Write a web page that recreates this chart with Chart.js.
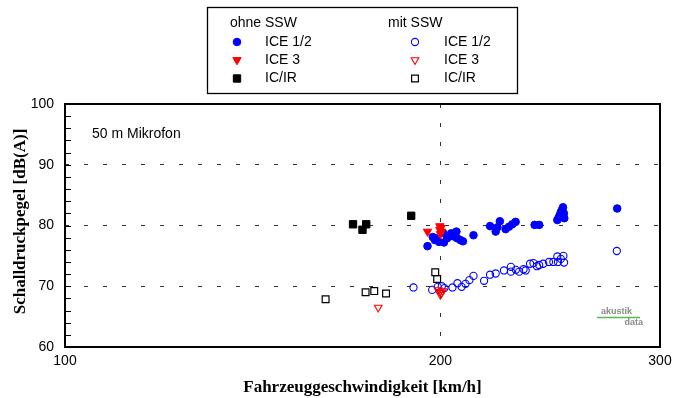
<!DOCTYPE html>
<html>
<head>
<meta charset="utf-8">
<script src="https://cdn.jsdelivr.net/npm/chart.js@4/dist/chart.umd.min.js"></script>
<style>
  body { margin: 0; background: #fff; }
  canvas { display: block; }
</style>
</head>
<body>
<canvas id="chart" width="674" height="398"></canvas>
<script>
// --- Data ---
const xTicks = [100, 200, 300];
const yTicks = [60, 70, 80, 90, 100];

// ohne SSW
const ice12OhneSpeed = [195.3, 197.2, 198.0, 198.5, 199.5, 201.3, 201.0, 202.5, 204.0, 205.0, 206.0, 206.3, 207.5, 208.5, 212.6,
    219.2, 221.5, 222.2, 223.2, 225.6, 227.0, 228.4, 229.8, 238.0, 240.0, 248.2, 248.8, 249.3, 249.8, 250.4, 250.8, 251.2, 251.4, 277.2];
const ice12OhneLevel = [76.6, 78.1, 77.6, 77.9, 77.3, 77.2, 78.8, 77.9, 78.7, 78.2, 79.0, 77.9, 77.6, 77.4, 78.4,
    79.9, 79.0, 79.7, 80.7, 79.4, 79.8, 80.2, 80.6, 80.1, 80.1, 80.9, 81.3, 81.7, 82.2, 82.6, 83.0, 82.0, 81.2, 82.8];
const ice3OhneSpeed = [195.3, 199.8, 200.2, 199.8, 200.4, 200.0];
const ice3OhneLevel = [79.0, 79.9, 79.6, 79.3, 79.0, 78.6];
const icOhneSpeed = [170.2, 173.2, 174.4, 189.5];
const icOhneLevel = [80.2, 79.3, 80.2, 81.6];

// mit SSW
const ice12MitSpeed = [190.3, 197.0, 199.0, 200.5, 201.5, 204.5, 206.4, 208.0, 209.5, 211.0, 212.6, 216.8, 219.2, 221.5, 224.9,
    227.8, 227.8, 229.9, 231.3, 233.2, 234.1, 236.0, 237.5, 239.0, 240.0, 241.8, 244.4, 246.4, 248.2, 248.5, 249.8, 251.0, 251.3, 277.0];
const ice12MitLevel = [69.8, 69.4, 69.9, 70.0, 69.7, 69.8, 70.5, 69.9, 70.4, 71.0, 71.7, 70.9, 71.9, 72.1, 72.6,
    73.2, 72.4, 72.7, 72.4, 72.8, 72.6, 73.7, 73.8, 73.3, 73.5, 73.7, 74.0, 74.0, 74.9, 74.0, 74.5, 75.0, 73.9, 75.8];
const ice3MitSpeed = [178.3, 199.2, 199.8, 200.4, 200.0, 200.8];
const ice3MitLevel = [66.5, 69.4, 69.1, 68.9, 68.6, 69.2];
const icMitSpeed = [161.8, 174.2, 177.0, 180.9, 198.1, 198.8];
const icMitLevel = [67.85, 69.0, 69.2, 68.8, 72.3, 71.2];

const BLUE = '#0000ff';
const RED = '#ff0000';

function points(xs, ys) {
    return xs.map((x, i) => ({ x: x, y: ys[i] }));
}

const styles = {
    ice12Ohne: { pointStyle: 'circle', radius: 3.8, bg: BLUE, border: BLUE, bw: 1, rot: 0 },
    ice3Ohne:  { pointStyle: 'triangle', radius: 4.8, bg: RED, border: RED, bw: 1, rot: 180 },
    icOhne:    { pointStyle: 'rect', radius: 5.2, bg: '#000', border: '#000', bw: 1, rot: 0 },
    ice12Mit:  { pointStyle: 'circle', radius: 3.6, bg: 'transparent', border: BLUE, bw: 1.1, rot: 0 },
    ice3Mit:   { pointStyle: 'triangle', radius: 4.4, bg: 'transparent', border: RED, bw: 1.1, rot: 180 },
    icMit:     { pointStyle: 'rect', radius: 4.8, bg: 'transparent', border: '#000', bw: 1.2, rot: 0 }
};

function dataset(label, data, s) {
    return {
        label: label,
        data: data,
        pointStyle: s.pointStyle,
        pointRadius: s.radius,
        pointHoverRadius: s.radius,
        pointRotation: s.rot,
        backgroundColor: s.bg,
        borderColor: s.border,
        borderWidth: s.bw
    };
}

// draw one legend marker with the same look as the chart points
function marker(ctx, s, x, y) {
    ctx.save();
    ctx.fillStyle = s.bg;
    ctx.strokeStyle = s.border;
    ctx.lineWidth = s.bw;
    Chart.helpers.drawPoint(ctx, { pointStyle: s.pointStyle, radius: s.radius, rotation: s.rot, borderWidth: s.bw }, x, y);
    ctx.restore();
}

const extras = {
    id: 'extras',
    beforeDatasetsDraw(chart) {
        const ctx = chart.ctx;
        const a = chart.chartArea;
        const y = chart.scales.y;
        ctx.save();
        // minor ticks on left axis, pointing inward
        ctx.strokeStyle = '#000';
        ctx.lineWidth = 1;
        ctx.beginPath();
        for (let v = 62; v < 100; v += 2) {
            const py = Math.round(y.getPixelForValue(v)) + 0.5;
            ctx.moveTo(a.left, py);
            ctx.lineTo(a.left + 6, py);
        }
        ctx.stroke();
        // frame
        ctx.lineWidth = 2;
        ctx.strokeRect(a.left, a.top, a.right - a.left, a.bottom - a.top);
        ctx.restore();
    },
    afterDraw(chart) {
        const ctx = chart.ctx;
        const a = chart.chartArea;
        ctx.save();

        // axis titles
        ctx.fillStyle = '#000';
        ctx.font = 'bold 17px "Liberation Serif", "Times New Roman", serif';
        ctx.textAlign = 'center';
        ctx.textBaseline = 'middle';
        ctx.fillText('Fahrzeuggeschwindigkeit [km/h]', (a.left + a.right) / 2, 388);
        ctx.save();
        ctx.translate(21, (a.top + a.bottom) / 2 - 4);
        ctx.rotate(-Math.PI / 2);
        ctx.fillText('Schalldruckpegel [dB(A)]', 0, 0);
        ctx.restore();

        // annotation
        ctx.font = '14px "Liberation Sans", Arial, sans-serif';
        ctx.textAlign = 'left';
        ctx.fillText('50 m Mikrofon', 92, 134);

        // legend box
        ctx.lineWidth = 1.3;
        ctx.strokeStyle = '#000';
        ctx.strokeRect(207.5, 7.5, 310, 86);
        ctx.fillText('ohne SSW', 230, 23.5);
        ctx.fillText('mit SSW', 388, 23.5);
        const rows = [
            ['ICE 1/2', styles.ice12Ohne, styles.ice12Mit, 42],
            ['ICE 3', styles.ice3Ohne, styles.ice3Mit, 60],
            ['IC/IR', styles.icOhne, styles.icMit, 78.5]
        ];
        rows.forEach(r => {
            marker(ctx, r[1], 237, r[3]);
            ctx.fillStyle = '#000';
            ctx.fillText(r[0], 265, r[3]);
            marker(ctx, r[2], 415, r[3]);
            ctx.fillStyle = '#000';
            ctx.fillText(r[0], 444, r[3]);
        });

        // akustik data logo
        ctx.fillStyle = '#8a8a8a';
        ctx.font = 'bold 9px "Liberation Sans", Arial, sans-serif';
        ctx.textAlign = 'left';
        ctx.fillText('akustik', 601, 311.5);
        ctx.textAlign = 'right';
        ctx.fillText('data', 643, 323);
        ctx.strokeStyle = '#55bb55';
        ctx.lineWidth = 1.5;
        ctx.beginPath();
        ctx.moveTo(597, 317.5);
        ctx.lineTo(640, 317.5);
        ctx.stroke();

        ctx.restore();
    }
};

new Chart(document.getElementById('chart'), {
    type: 'scatter',
    data: {
        datasets: [
            dataset('ICE 3 ohne SSW', points(ice3OhneSpeed, ice3OhneLevel), styles.ice3Ohne),
            dataset('ICE 3 mit SSW', points(ice3MitSpeed, ice3MitLevel), styles.ice3Mit),
            dataset('IC/IR ohne SSW', points(icOhneSpeed, icOhneLevel), styles.icOhne),
            dataset('IC/IR mit SSW', points(icMitSpeed, icMitLevel), styles.icMit),
            dataset('ICE 1/2 ohne SSW', points(ice12OhneSpeed, ice12OhneLevel), styles.ice12Ohne),
            dataset('ICE 1/2 mit SSW', points(ice12MitSpeed, ice12MitLevel), styles.ice12Mit)
        ]
    },
    options: {
        responsive: false,
        animation: false,
        layout: { padding: { top: 104, right: 14, left: 0, bottom: 0 } },
        plugins: {
            legend: { display: false },
            tooltip: { enabled: false }
        },
        scales: {
            x: {
                type: 'logarithmic',
                min: 100,
                max: 300,
                afterBuildTicks: scale => { scale.ticks = xTicks.map(v => ({ value: v })); },
                afterFit: scale => {
                    scale.height = 51;
                    scale.paddingLeft = 0;
                    scale.paddingRight = 0;
                },
                ticks: {
                    callback: v => String(v),
                    color: '#000',
                    padding: 6,
                    maxRotation: 0,
                    autoSkip: false,
                    font: { family: '"Liberation Sans", Arial, sans-serif', size: 14 }
                },
                grid: {
                    drawTicks: false,
                    color: c => (c.tick && c.tick.value === 200) ? '#333' : 'transparent',
                    lineWidth: 1
                },
                border: { display: false, dash: [4, 15] }
            },
            y: {
                min: 60,
                max: 100,
                afterBuildTicks: scale => { scale.ticks = yTicks.map(v => ({ value: v })); },
                afterFit: scale => {
                    scale.width = 65;
                    scale.paddingTop = 0;
                    scale.paddingBottom = 0;
                },
                ticks: {
                    color: '#000',
                    padding: 11,
                    font: { family: '"Liberation Sans", Arial, sans-serif', size: 14 }
                },
                grid: {
                    drawTicks: false,
                    color: c => (c.tick && c.tick.value > 60 && c.tick.value < 100) ? '#333' : 'transparent',
                    lineWidth: 1
                },
                border: { display: false, dash: [4, 15] }
            }
        }
    },
    plugins: [extras]
});
</script>
</body>
</html>
